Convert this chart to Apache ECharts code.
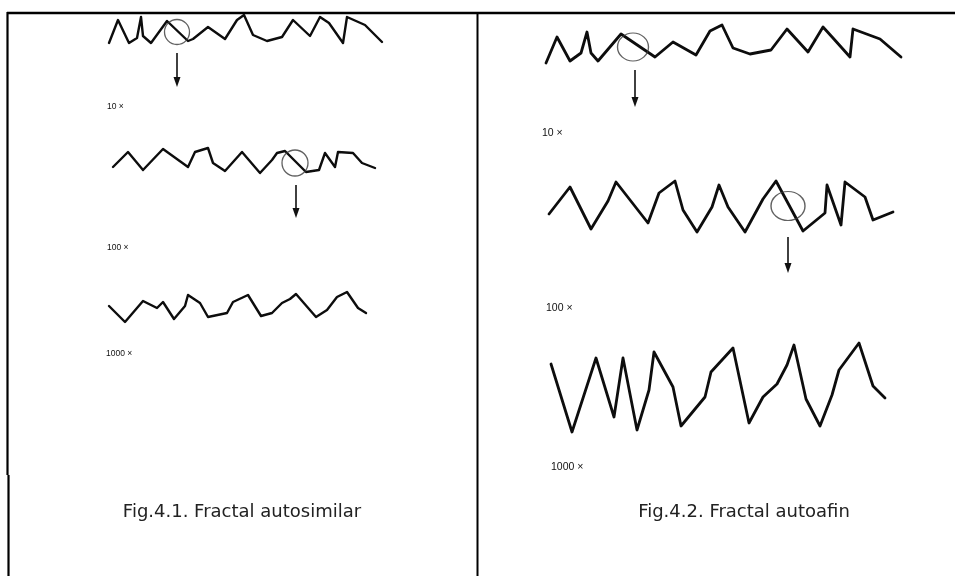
<!DOCTYPE html>
<html><head><meta charset="utf-8">
<script src="https://cdn.jsdelivr.net/npm/echarts@6/dist/echarts.min.js"></script>
<style>html,body{margin:0;padding:0;background:#fff}#c{width:955px;height:576px}</style>
</head><body><div id="c"></div>
<script>
// ---- Profile data: position along the profile, surface height ----
// Fig.4.1 (self-similar)
const L10_x   = [4,13,24,32,36,38,46,62,83,88,103,120,132,139,148,162,177,188,205,215,224,238,242,260,277];
const L10_y   = [42,65,42,47,68,49,42,64,44,46,58,46,65,70,50,44,48,65,49,68,62,42,68,60,43];
const L100_x  = [8,23,38,58,83,90,103,108,120,137,155,167,172,180,201,214,220,230,233,248,257,270];
const L100_y  = [48,63,45,66,48,63,67,52,44,63,42,55,62,64,43,45,62,48,63,62,52,47];
const L1000_x = [4,20,38,52,58,69,80,83,95,103,122,128,143,156,167,177,185,191,211,222,232,242,253,261];
const L1000_y = [17,1,22,15,21,4,17,28,20,6,10,21,28,7,10,20,24,29,6,13,26,31,15,10];
// Fig.4.2 (self-affine)
const R10_x   = [6,17,30,41,47,51,58,81,115,133,156,170,182,193,210,231,247,268,283,293,310,313,340,361];
const R10_y   = [41,67,43,51,72,51,43,70,47,62,49,73,79,56,50,54,75,52,77,66,47,75,65,47];
const R100_x  = [9,30,51,68,76,108,119,135,143,157,172,179,188,205,223,236,263,285,287,301,305,325,333,353];
const R100_y  = [56,83,41,69,88,47,77,89,60,38,63,85,63,38,71,89,39,57,85,45,88,73,50,58];
const R1000_x = [11,32,56,74,83,97,109,114,133,141,165,171,193,209,223,237,247,254,266,280,292,299,319,333,345];
const R1000_y = [71,3,77,18,77,5,45,83,48,9,38,63,87,12,38,51,70,90,36,9,40,65,92,49,37];

// Zoom circles [x, y] and arrows [x, yStart, yEnd]
const L10_circle = [72,53];   const L10_arrow = [72,32,3];
const L100_circle = [190,52]; const L100_arrow = [191,30,2];
const R10_circle = [93,57];   const R10_arrow = [95,34,2];
const R100_circle = [248,64]; const R100_arrow = [248,33,2];

// Magnification labels and captions
const magLabels = ['10 ×','100 ×','1000 ×'];
const captions = ['Fig.4.1. Fractal autosimilar','Fig.4.2. Fractal autoafin'];

const panels = [
  {x:L10_x,   y:L10_y,   circle:L10_circle,  arrow:L10_arrow,  box:{left:105,top:10,width:285,height:75},  lw:2.4, cs:[25,25]},
  {x:L100_x,  y:L100_y,  circle:L100_circle, arrow:L100_arrow, box:{left:105,top:145,width:285,height:70}, lw:2.4, cs:[26,26]},
  {x:L1000_x, y:L1000_y, circle:null,        arrow:null,       box:{left:105,top:288,width:285,height:35}, lw:2.4},
  {x:R10_x,   y:R10_y,   circle:R10_circle,  arrow:R10_arrow,  box:{left:540,top:22,width:370,height:82},  lw:2.8, cs:[31,28]},
  {x:R100_x,  y:R100_y,  circle:R100_circle, arrow:R100_arrow, box:{left:540,top:178,width:370,height:92}, lw:2.8, cs:[34,29]},
  {x:R1000_x, y:R1000_y, circle:null,        arrow:null,       box:{left:540,top:340,width:370,height:95}, lw:2.8}
];

const grid = [], xAxis = [], yAxis = [], series = [];
panels.forEach((p, i) => {
  grid.push(Object.assign({containLabel:false}, p.box));
  xAxis.push({type:'value', gridIndex:i, min:0, max:p.box.width, show:false});
  yAxis.push({type:'value', gridIndex:i, min:0, max:p.box.height, show:false});
  const s = {
    type:'line', xAxisIndex:i, yAxisIndex:i, clip:false, silent:true,
    symbol:'none', animation:false,
    lineStyle:{color:'#0d0d0d', width:p.lw, join:'round', cap:'round'},
    data:p.x.map((v, k) => [v, p.y[k]])
  };
  if (p.arrow) {
    s.markLine = {
      silent:true, animation:false, symbol:['none','triangle'], symbolSize:[7,10],
      label:{show:false},
      lineStyle:{color:'#111', width:1.6, type:'solid'},
      data:[[{coord:[p.arrow[0], p.arrow[1]]},{coord:[p.arrow[0], p.arrow[2]]}]]
    };
  }
  series.push(s);
  if (p.circle) {
    series.push({
      type:'scatter', xAxisIndex:i, yAxisIndex:i, silent:true, animation:false, z:3,
      symbol:'circle', symbolSize:p.cs,
      itemStyle:{color:'rgba(0,0,0,0)', borderColor:'#3a3a3a', borderWidth:1.3},
      data:[p.circle]
    });
  }
});

const txt = (x, y, s, size, align) => ({
  type:'text', x, y, silent:true,
  style:{text:s, fill:'#111', font:size + 'px "Liberation Sans", Arial, sans-serif', textAlign:align||'left', textVerticalAlign:'middle'}
});
const line = (x1, y1, x2, y2, w) => ({
  type:'line', silent:true, shape:{x1, y1, x2, y2}, style:{stroke:'#000', lineWidth:w}
});

const capFont = '18px "DejaVu Sans", Verdana, sans-serif';
const graphic = [
  line(7, 13, 955, 13, 2.4),
  line(7.5, 12, 7.5, 475, 2.2),
  line(8.5, 475, 8.5, 576, 2.2),
  line(477.5, 12, 477.5, 576, 2),
  txt(107, 107, magLabels[0], 8.5),
  txt(107, 248, magLabels[1], 8.5),
  txt(106, 354, magLabels[2], 8.5),
  txt(542, 133, magLabels[0], 10.5),
  txt(546, 308, magLabels[1], 10.5),
  txt(551, 467, magLabels[2], 10.5),
  {type:'text', x:242, y:512, silent:true, style:{text:captions[0], fill:'#222', font:capFont, textAlign:'center', textVerticalAlign:'middle'}},
  {type:'text', x:744, y:512, silent:true, style:{text:captions[1], fill:'#222', font:capFont, textAlign:'center', textVerticalAlign:'middle'}}
];

const chart = echarts.init(document.getElementById('c'), null, {renderer:'canvas'});
chart.setOption({animation:false, backgroundColor:'#fff', grid, xAxis, yAxis, series, graphic});
</script>
</body></html>
